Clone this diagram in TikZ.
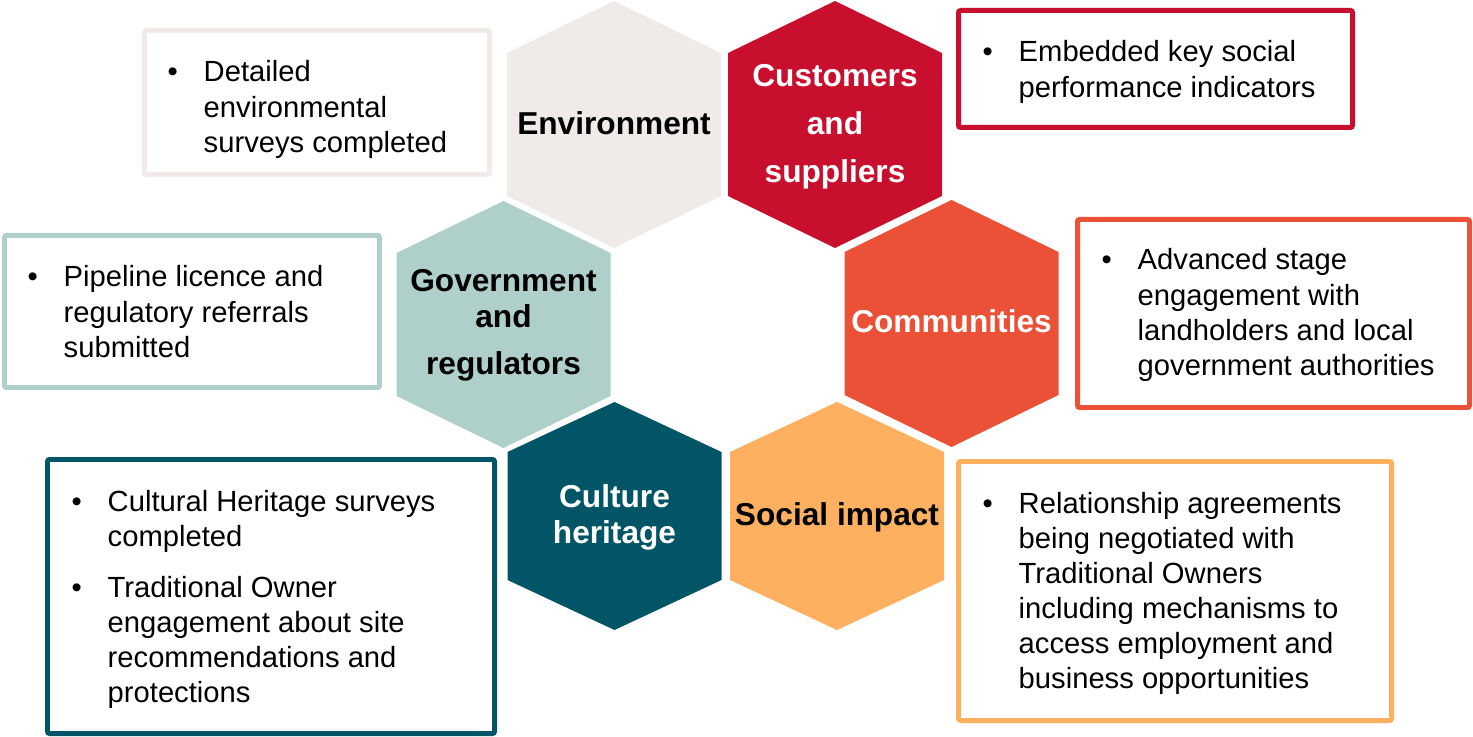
\documentclass[tikz,border=0pt]{standalone}
\usepackage{fontspec}
\setmainfont{Liberation Sans}
\usepackage{tikz}
\usetikzlibrary{fit}
\definecolor{envgray}{RGB}{240, 235, 233}
\definecolor{custred}{RGB}{200, 16, 46}
\definecolor{govteal}{RGB}{174, 207, 202}
\definecolor{commorange}{RGB}{234, 81, 54}
\definecolor{cultteal}{RGB}{1, 85, 102}
\definecolor{socorange}{RGB}{253, 177, 96}

\tikzset{
  infobox/.style={draw=#1, line width=1.42pt, rounded corners=0.6pt, inner sep=0pt, fill=white},
  infotext/.style={anchor=base west, inner sep=0pt, font=\fontsize{8.3pt}{9.96pt}\selectfont},
  hexlabel/.style={anchor=base, inner sep=0pt, font=\fontsize{9pt}{10.1pt}\selectfont\bfseries},
}
% centre x, top, bottom, slant height, colour
\newcommand{\hexcell}[5]{%
  \fill[#5] (#1,#2) -- ({#1+107},{#2+#4}) -- ({#1+107},{#3-#4}) -- (#1,#3)
    -- ({#1-107},{#3-#4}) -- ({#1-107},{#2+#4}) -- cycle;}
\newcommand{\bulletlist}[1]{\begin{tabular}[t]{@{}p{0.36cm}@{}l@{}}#1\end{tabular}}
\newcommand{\hexlines}[1]{\begin{tabular}[t]{@{}c@{}}#1\end{tabular}}

\begin{document}
\begin{tikzpicture}[x=0.01cm, y=-0.01cm]
  \useasboundingbox (0,0) rectangle (1473,737);

  % hexagons
  \hexcell{614}{1}{248}{52}{envgray}
  \hexcell{835}{1}{248}{52}{custred}
  \hexcell{503.5}{201}{448}{52}{govteal}
  \hexcell{951.5}{200}{447}{52}{commorange}
  \hexcell{614.5}{402}{630}{50}{cultteal}
  \hexcell{837}{402}{630}{50}{socorange}

  \node[hexlabel] (envlbl) at (614,135) {Environment};
  \node[hexlabel, text=white] (custlbl) at (835,87)
    {\hexlines{Customers\\[3.5pt] and\\[3.5pt] suppliers}};
  \node[hexlabel] (govlbl) at (503.5,292)
    {\hexlines{Government\\ and\\[3.3pt] regulators}};
  \node[hexlabel, text=white] (commlbl) at (951.5,333) {Communities};
  \node[hexlabel, text=white] (cultlbl) at (614.5,508)
    {\hexlines{Culture\\ heritage}};
  \node[hexlabel] (soclbl) at (837,525) {Social impact};

  % text boxes
  \node[infobox=envgray, fit={(144.5,30.5) (489.5,174.5)}] (envbox) {};
  \node[infobox=custred, fit={(958.5,10.5) (1352.5,127.5)}] (custbox) {};
  \node[infobox=govteal, fit={(4.5,235.5) (379.5,387.5)}] (govbox) {};
  \node[infobox=commorange, fit={(1077.5,219.5) (1469.5,407.5)}] (commbox) {};
  \node[infobox=cultteal, fit={(47.5,459.5) (494.5,733.5)}] (cultbox) {};
  \node[infobox=socorange, fit={(958.5,461.5) (1391.5,720.5)}] (socbox) {};

  \node[infotext] (envtxt) at (167,82)
    {\bulletlist{\textbullet & Detailed\\ & environmental\\ & surveys completed}};
  \node[infotext] (custtxt) at (982,62)
    {\bulletlist{\textbullet & Embedded key social\\ & performance indicators}};
  \node[infotext] (govtxt) at (27,287)
    {\bulletlist{\textbullet & Pipeline licence and\\ & regulatory referrals\\ & submitted}};
  \node[infotext] (commtxt) at (1101,270)
    {\bulletlist{\textbullet & Advanced stage\\ & engagement with\\ & landholders and local\\ & government authorities}};
  \node[infotext] (culttxt) at (71,511)
    {\bulletlist{\textbullet & Cultural Heritage surveys\\ & completed\\[0.16cm]
      \textbullet & Traditional Owner\\ & engagement about site\\ & recommendations and\\ & protections}};
  \node[infotext] (soctxt) at (982,513)
    {\bulletlist{\textbullet & Relationship agreements\\ & being negotiated with\\ & Traditional Owners\\
      & including mechanisms to\\ & access employment and\\ & business opportunities}};
\end{tikzpicture}
\end{document}
